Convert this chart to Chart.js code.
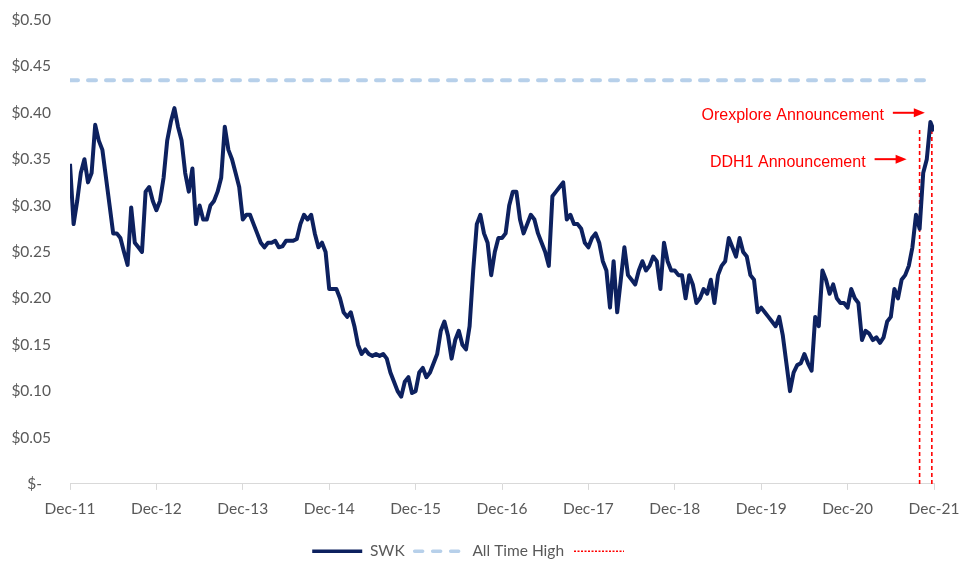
<!DOCTYPE html>
<html>
<head>
<meta charset="utf-8">
<title>SWK share price</title>
<script src="https://cdn.jsdelivr.net/npm/chart.js@4.4.1/dist/chart.umd.min.js"></script>
<style>
  html, body { margin: 0; padding: 0; background: #ffffff; }
  #wrap { width: 960px; height: 561px; }
</style>
</head>
<body>
<div id="wrap"><canvas id="chart"></canvas></div>
<script>
  // Closing price sampled twice a month, starting Dec-2011 (one row per year)
  const swkPrice = [
    0.345, 0.28, 0.305, 0.335, 0.35, 0.325, 0.335, 0.387, 0.37, 0.36, 0.33, 0.30,
    0.27, 0.27, 0.265, 0.25, 0.236, 0.298, 0.26, 0.255, 0.25, 0.315, 0.32, 0.305,
    0.295, 0.305, 0.33, 0.37, 0.39, 0.405, 0.385, 0.37, 0.335, 0.315, 0.34, 0.28,
    0.30, 0.285, 0.285, 0.30, 0.305, 0.315, 0.33, 0.385, 0.36, 0.35, 0.335, 0.32,
    0.285, 0.29, 0.29, 0.28, 0.27, 0.26, 0.255, 0.26, 0.26, 0.262, 0.255, 0.256,
    0.262, 0.262, 0.262, 0.264, 0.28, 0.29, 0.285, 0.29, 0.27, 0.255, 0.26, 0.25,
    0.21, 0.21, 0.21, 0.20, 0.185, 0.18, 0.185, 0.17, 0.15, 0.14, 0.145, 0.14,
    0.138, 0.14, 0.138, 0.14, 0.135, 0.12, 0.11, 0.10, 0.094, 0.11, 0.115, 0.098,
    0.10, 0.12, 0.125, 0.115, 0.12, 0.13, 0.14, 0.165, 0.175, 0.16, 0.135, 0.155,
    0.165, 0.15, 0.145, 0.17, 0.23, 0.28, 0.29, 0.27, 0.26, 0.225, 0.25, 0.265,
    0.265, 0.27, 0.30, 0.315, 0.315, 0.285, 0.27, 0.28, 0.29, 0.285, 0.27, 0.26,
    0.25, 0.235, 0.31, 0.315, 0.32, 0.325, 0.285, 0.29, 0.28, 0.28, 0.275, 0.26,
    0.255, 0.265, 0.27, 0.26, 0.24, 0.23, 0.19, 0.24, 0.185, 0.22, 0.255, 0.225,
    0.22, 0.215, 0.23, 0.24, 0.23, 0.235, 0.245, 0.24, 0.21, 0.26, 0.24, 0.23,
    0.23, 0.225, 0.225, 0.20, 0.225, 0.215, 0.195, 0.20, 0.21, 0.205, 0.22, 0.195,
    0.225, 0.235, 0.24, 0.265, 0.255, 0.245, 0.265, 0.25, 0.245, 0.225, 0.22, 0.185,
    0.19, 0.185, 0.18, 0.175, 0.17, 0.18, 0.16, 0.13, 0.10, 0.12, 0.128, 0.13,
    0.14, 0.13, 0.122, 0.18, 0.17, 0.23, 0.22, 0.205, 0.215, 0.20, 0.195, 0.195,
    0.19, 0.21, 0.20, 0.195, 0.155, 0.165, 0.162, 0.155, 0.158, 0.152, 0.158, 0.175,
    0.18, 0.21, 0.20, 0.22, 0.225, 0.235, 0.255, 0.29, 0.275, 0.335, 0.35, 0.39,
    0.38
  ];
  const SAMPLES_PER_MONTH = 2;

  const allTimeHigh = 0.435;
  const allTimeHighSpan = [0, 119]; // months from Dec-11

  // Announcement dates (months from Dec-11) and where their markers sit
  const eventLabels = ["DDH1 Announcement", "Orexplore Announcement"];
  const eventMonths = [118.0, 119.7];
  const eventLineTop = [0.384, 0.388];
  const eventArrowValue = [0.35, 0.40];

  const xTickLabels = ["Dec-11", "Dec-12", "Dec-13", "Dec-14", "Dec-15", "Dec-16",
    "Dec-17", "Dec-18", "Dec-19", "Dec-20", "Dec-21"];
  const yTickLabels = ["$-\u2007", "$0.05", "$0.10", "$0.15", "$0.20", "$0.25",
    "$0.30", "$0.35", "$0.40", "$0.45", "$0.50"];

  const NAVY = "#0d215f";
  const LIGHT_BLUE = "#b7d0ea";
  const RED = "#ff0000";
  const GREY_TEXT = "#595959";
  const AXIS_GREY = "#d9d9d9";
  const FONT = 'Lato, "Open Sans", sans-serif';

  const arrowNotes = {
    id: "arrowNotes",
    afterDatasetsDraw(chart) {
      const { ctx, scales } = chart;
      const tipGap = [13, 7];
      const shaft = 32;
      ctx.save();
      ctx.fillStyle = RED;
      ctx.strokeStyle = RED;
      ctx.lineWidth = 2;
      ctx.font = '16px "Liberation Sans", Arial, sans-serif';
      ctx.textAlign = "right";
      ctx.textBaseline = "middle";
      eventLabels.forEach((label, i) => {
        const y = scales.y.getPixelForValue(eventArrowValue[i]);
        const tip = scales.x.getPixelForValue(eventMonths[i]) - tipGap[i];
        const tail = tip - shaft;
        ctx.beginPath();
        ctx.moveTo(tail, y);
        ctx.lineTo(tip - 9, y);
        ctx.stroke();
        ctx.beginPath();
        ctx.moveTo(tip, y);
        ctx.lineTo(tip - 11, y - 4.5);
        ctx.lineTo(tip - 11, y + 4.5);
        ctx.closePath();
        ctx.fill();
        ctx.fillText(label, tail - 9, y + 3);
      });
      ctx.restore();
    },
  };

  const swkPoints = swkPrice.map((v, i) => ({ x: i / SAMPLES_PER_MONTH, y: v }));
  const athPoints = allTimeHighSpan.map((m) => ({ x: m, y: allTimeHigh }));
  const eventSets = eventMonths.map((m, i) => ({
    label: "",
    data: [{ x: m, y: 0 }, { x: m, y: eventLineTop[i] }],
    borderColor: RED,
    borderWidth: 1.6,
    borderDash: [4, 3],
    pointRadius: 0,
  }));

  // legend samples reuse each dataset's stroke (dash, width, cap)
  function lineLegendItems(chart) {
    const items = Chart.defaults.plugins.legend.labels.generateLabels(chart);
    items.forEach((item) => {
      const ds = chart.data.datasets[item.datasetIndex];
      item.strokeStyle = ds.borderColor;
      item.lineWidth = item.datasetIndex >= 2 ? 1.3 : ds.borderWidth - 0.5;
      item.lineDash = item.datasetIndex >= 2 ? [2, 1.5] : ds.borderDash || [];
      item.lineCap = ds.borderCapStyle || "butt";
    });
    return items;
  }

  new Chart(document.getElementById("chart"), {
    type: "line",
    data: {
      datasets: [
        {
          label: "SWK",
          data: swkPoints,
          borderColor: NAVY,
          borderWidth: 4,
          borderJoinStyle: "round",
          pointRadius: 0,
        },
        {
          label: "All Time High",
          data: athPoints,
          borderColor: LIGHT_BLUE,
          borderWidth: 4,
          borderDash: [8, 10],
          borderCapStyle: "round",
          pointRadius: 0,
        },
        ...eventSets,
      ],
    },
    options: {
      responsive: true,
      maintainAspectRatio: false,
      animation: false,
      layout: {
        padding: { left: 10, right: 26, top: 20, bottom: -8 },
      },
      plugins: {
        tooltip: { enabled: false },
        legend: {
          position: "bottom",
          labels: {
            usePointStyle: true,
            pointStyle: "line",
            pointStyleWidth: 50,
            padding: 10,
            color: GREY_TEXT,
            font: { family: FONT, size: 15.5 },
            generateLabels: lineLegendItems,
            filter: (item) => item.datasetIndex < 3,
          },
        },
      },
      scales: {
        x: {
          type: "linear",
          min: 0,
          max: 120,
          grid: {
            drawOnChartArea: false,
            color: AXIS_GREY,
            tickLength: 6,
          },
          border: { color: AXIS_GREY },
          afterFit(scale) {
            scale.paddingLeft = 0;
            scale.paddingRight = 0;
            scale.height += 5;
          },
          ticks: {
            stepSize: 12,
            autoSkip: false,
            maxRotation: 0,
            padding: 10,
            color: GREY_TEXT,
            font: { family: FONT, size: 15.5 },
            callback: (value) => xTickLabels[Math.round(value / 12)],
          },
        },
        y: {
          min: 0,
          max: 0.5,
          grid: { display: false, drawTicks: false },
          border: { display: false },
          afterFit(scale) {
            scale.width = 60;
            scale.paddingTop = 0;
            scale.paddingBottom = 0;
          },
          ticks: {
            stepSize: 0.05,
            padding: 19,
            color: GREY_TEXT,
            font: { family: FONT, size: 15.5 },
            callback: (value) => yTickLabels[Math.round(value / 0.05)],
          },
        },
      },
    },
    plugins: [arrowNotes],
  });
</script>
</body>
</html>
